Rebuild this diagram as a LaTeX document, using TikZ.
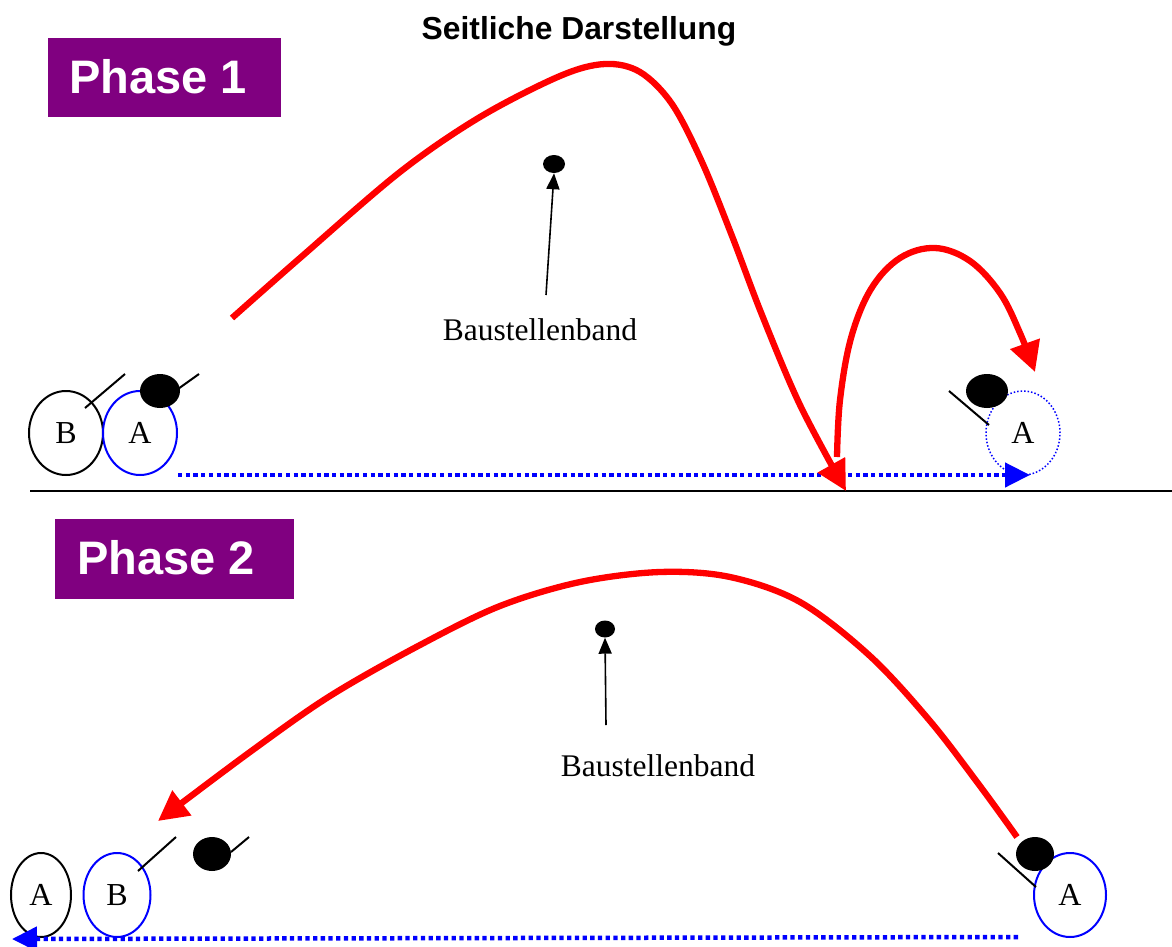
\documentclass[tikz,border=0pt]{standalone}
\usepackage{fontspec}
\setmainfont{Liberation Serif}
\newfontfamily\arialfont{Liberation Sans}
\usetikzlibrary{arrows.meta,shapes.geometric}
\definecolor{phasepurple}{RGB}{128,0,128}
\begin{document}
\begin{tikzpicture}[x=1pt,y=-1pt,
  redcurve/.style={draw=red, line width=6.3pt, line join=round, -{Triangle[length=30pt,width=30pt]}},
  bluedot/.style={draw=blue, line width=4.5pt, dash pattern=on 4.3pt off 3.4pt, -{Triangle[length=25pt,width=24pt]}},
  player/.style={ellipse, draw, line width=2pt, minimum width=74pt, minimum height=84pt, inner sep=0pt, font=\fontsize{32}{38}\selectfont},
  ball/.style={ellipse, fill=black, draw=none, minimum width=40pt, minimum height=34pt, inner sep=0pt},
  racket/.style={draw=black, line width=2pt},
  phasebox/.style={fill=phasepurple, inner sep=0pt},
  phasetext/.style={text=white, inner sep=0pt, font=\arialfont\bfseries\fontsize{47}{52}\selectfont},
  tapedot/.style={ellipse, fill=black, inner sep=0pt},
  tapearrow/.style={draw=black, line width=1.6pt, -{Triangle[length=16pt,width=13pt]}},
  label/.style={font=\fontsize{31.5}{36}\selectfont, inner sep=0pt}
]
\useasboundingbox (0,0) rectangle (1172,947);

% title
\node[font=\arialfont\bfseries\fontsize{31.8}{36}\selectfont, inner sep=0pt] (title) at (579,31) {Seitliche Darstellung};

% ================= Phase 1 =================
\node[phasebox, minimum width=233pt, minimum height=79pt] (ph1) at (164.5,77.5) {};
\node[phasetext] (ph1t) at (158,77) {Phase 1};

% tape
\node[tapedot, minimum width=22pt, minimum height=18pt] (tape1) at (554,164) {};
\node[label] (tapelabel1) at (540,330) {Baustellenband};
\coordinate (ta1) at (546,295);
\draw[tapearrow] (ta1) -- (tape1.south);

% ground
\coordinate (g1a) at (30,491);
\coordinate (g1b) at (1180,491);
\draw[line width=2pt] (g1a) -- (g1b);

% players left
\node[player] (B1) at (66,433) {B};
\node[player, draw=blue] (A1) at (140,433) {A};
\coordinate (rB1a) at (85,408);
\coordinate (rB1b) at (125,374);
\draw[racket] (rB1a) -- (rB1b);
\coordinate (rA1a) at (178,389);
\coordinate (rA1b) at (199,374);
\draw[racket] (rA1a) -- (rA1b);
\node[ball] (ball1) at (160,391) {};

% player A right (dotted)
\node[player, draw=blue, line width=1.5pt, dotted] (A1r) at (1023,433) {A};
\node[ball, minimum width=42pt] (ball1r) at (987,391) {};
\coordinate (rA1ra) at (949,391);
\coordinate (rA1rb) at (989,425);
\draw[racket] (rA1ra) -- (rA1rb);

% blue dotted run
\coordinate (d1s) at (178,475);
\coordinate (d1e) at (1030,475);
\draw[bluedot] (d1s) -- (d1e);

% red curves
\draw[redcurve] plot[smooth, tension=0.55] coordinates {(232,318) (300,258) (400,172) (480,117) (560,76) (605,64) (640,72) (672,104) (702,162) (732,236) (762,315) (800,405) (846,491)};
\draw[redcurve] plot[smooth, tension=0.6] coordinates {(837,457) (840,400) (851,338) (871,289) (900,258) (935,248) (970,261) (1000,293) (1020,333) (1035,372)};

% ================= Phase 2 =================
\node[phasebox, minimum width=239pt, minimum height=80pt] (ph2) at (174.5,559) {};
\node[phasetext] (ph2t) at (166,558) {Phase 2};

\node[tapedot, minimum width=20pt, minimum height=17pt] (tape2) at (605,629) {};
\node[label] (tapelabel2) at (658,766) {Baustellenband};
\coordinate (ta2) at (606,725);
\draw[tapearrow] (ta2) -- (tape2.south);

% players left
\node[player, minimum width=60pt] (A2) at (41,895) {A};
\node[player, draw=blue, minimum width=67pt] (B2) at (117,895) {B};
\coordinate (rB2a) at (138,871);
\coordinate (rB2b) at (176,837);
\draw[racket] (rB2a) -- (rB2b);
\node[ball, minimum width=38pt] (ball2) at (212,854) {};
\coordinate (rb2a) at (231,852);
\coordinate (rb2b) at (249,837);
\draw[racket] (rb2a) -- (rb2b);

% player A right
\node[player, draw=blue, minimum width=72pt] (A2r) at (1070,895) {A};
\coordinate (rA2ra) at (998,853);
\coordinate (rA2rb) at (1036,887);
\draw[racket] (rA2ra) -- (rA2rb);
\node[ball, minimum width=38pt] (ball2r) at (1035,854) {};

% blue dotted run (leftwards)
\coordinate (d2s) at (1018,937);
\coordinate (d2e) at (12,939);
\draw[bluedot] (d2s) -- (d2e);

% red curve
\draw[redcurve] plot[smooth, tension=0.55] coordinates {(1017,837) (980,786) (930,721) (870,656) (800,602) (730,577) (660,572) (580,582) (500,606) (420,645) (330,696) (250,752) (158,821)};

\end{tikzpicture}
\end{document}
